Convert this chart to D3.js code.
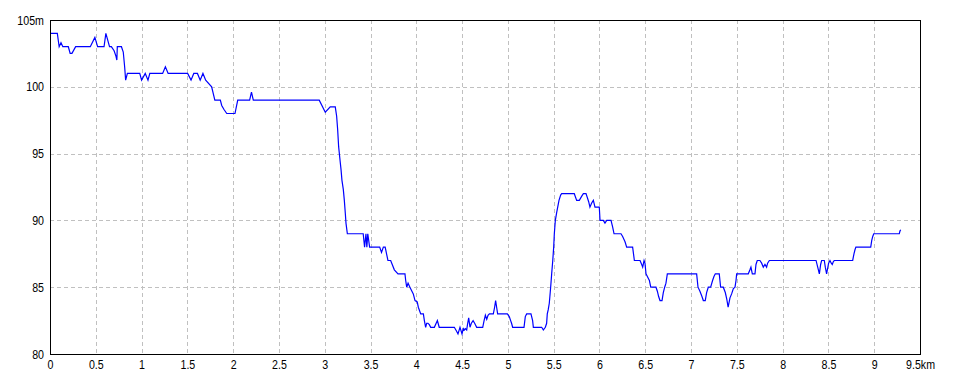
<!DOCTYPE html>
<html>
<head>
<meta charset="utf-8">
<script src="https://cdn.jsdelivr.net/npm/d3@7"></script>
<style>
  body { margin: 0; background: #fff; }
  svg text { font-family: "Liberation Sans", Arial, sans-serif; font-size: 13px; fill: #000; }
</style>
</head>
<body>
<div id="chart"></div>
<script>
// distance along the route (km) and elevation (m)
const distKm = [
  0, 0.08, 0.10, 0.12, 0.14, 0.20, 0.22, 0.24, 0.28, 0.44, 0.49, 0.52, 0.59, 0.61, 0.65, 0.67,
  0.70, 0.72, 0.73, 0.735, 0.78, 0.80, 0.815, 0.826, 0.845, 0.98, 1.00, 1.04, 1.07, 1.09,
  1.23, 1.26, 1.29, 1.503, 1.54, 1.57, 1.61, 1.64, 1.67, 1.70, 1.765, 1.80, 1.86, 1.875,
  1.90, 1.93, 2.02, 2.05, 2.18, 2.20, 2.22, 2.94, 3.006, 3.06, 3.115, 3.13, 3.141, 3.152,
  3.167, 3.178, 3.188, 3.203, 3.214, 3.225, 3.232, 3.247, 3.42, 3.435, 3.45, 3.46, 3.47,
  3.49, 3.60, 3.62, 3.64, 3.66, 3.69, 3.72, 3.76, 3.80, 3.876, 3.884, 3.895, 3.91, 3.93,
  3.967, 3.986, 4.01, 4.022, 4.048, 4.077, 4.088, 4.102, 4.113, 4.127, 4.142, 4.157, 4.197,
  4.23, 4.25, 4.415, 4.44, 4.455, 4.477, 4.499, 4.513, 4.524, 4.535, 4.55, 4.561, 4.572,
  4.586, 4.601, 4.62, 4.637, 4.659, 4.725, 4.74, 4.754, 4.769, 4.783, 4.798, 4.841, 4.855,
  4.866, 4.877, 4.888, 4.994, 5.015, 5.03, 5.04, 5.052, 5.176, 5.19, 5.205, 5.252, 5.27,
  5.278, 5.369, 5.387, 5.409, 5.423, 5.43, 5.44, 5.452, 5.467, 5.478, 5.49, 5.50, 5.507,
  5.518, 5.533, 5.544, 5.558, 5.576, 5.587, 5.725, 5.751, 5.78, 5.805, 5.824, 5.853, 5.868,
  5.882, 5.896, 5.915, 5.933, 5.951, 5.998, 6.006, 6.042, 6.06, 6.079, 6.126, 6.144, 6.159,
  6.235, 6.253, 6.279, 6.297, 6.362, 6.381, 6.443, 6.461, 6.472, 6.487, 6.497, 6.508, 6.523,
  6.545, 6.56, 6.617, 6.632, 6.646, 6.661, 6.683, 6.697, 6.712, 6.726, 6.741, 7.061, 7.076,
  7.097, 7.119, 7.134, 7.155, 7.17, 7.188, 7.214, 7.235, 7.25, 7.265, 7.308, 7.323, 7.352,
  7.374, 7.39, 7.405, 7.425, 7.443, 7.462, 7.48, 7.491, 7.498, 7.625, 7.643, 7.654, 7.669,
  7.698, 7.709, 7.723, 7.752, 7.771, 7.789, 7.807, 7.825, 7.836, 7.855, 8.365, 8.383, 8.401,
  8.415, 8.426, 8.455, 8.466, 8.48, 8.491, 8.502, 8.517, 8.531, 8.542, 8.553, 8.564, 8.765,
  8.779, 8.79, 8.80, 8.962, 8.973, 8.984, 8.995, 9.274, 9.281, 9.289
];
const elevM = [
  104, 104, 103, 103.3, 103, 103, 102.5, 102.5, 103, 103, 103.7, 103, 103, 104, 103, 103,
  102.7, 102.3, 102, 103, 103, 102.6, 101.5, 100.5, 101, 101, 100.5, 101, 100.5, 101,
  101, 101.5, 101, 101, 100.5, 101, 101, 100.5, 101, 100.5, 100, 99, 99, 98.6,
  98.3, 98, 98, 99, 99, 99.6, 99, 99, 98.1, 98.5, 98.5, 97.8, 96.8, 95.5,
  94.5, 93.8, 93, 92.3, 91.5, 90.5, 89.8, 89, 89, 88, 89, 88, 89,
  88, 88, 87.6, 88, 88, 87, 87, 86.3, 86, 86, 85.5, 85, 85.3, 85,
  84.5, 84, 83.9, 83.5, 83, 83, 82.5, 82, 82.3, 82.3, 82.2, 82, 82,
  82.5, 82, 82, 81.7, 81.5, 82, 81.5, 81.9, 81.8, 81.9, 81.8, 82.3, 82.7,
  82, 82.3, 82.5, 82.3, 82, 82, 82.5, 82.9, 82.6, 82.9, 83, 83, 83.5,
  84, 83.5, 83, 83, 82.8, 82.5, 82.3, 82, 82, 82.8, 83, 83, 82.5,
  82, 82, 81.8, 82, 82.3, 83, 83.3, 83.8, 85, 86, 87, 88, 89,
  90, 90.6, 91, 91.5, 91.9, 92, 92, 91.5, 91.5, 91.8, 92, 92, 91.7,
  91.4, 91, 91.3, 91.5, 91, 91, 90, 90, 89.8, 90, 90, 89.5, 89,
  89, 88.8, 88.4, 88, 88, 87, 87, 86.7, 86.5, 87, 86.8, 86, 85.8,
  85.5, 85, 85, 84.7, 84.3, 84, 84, 84.6, 85, 85.3, 86, 86, 85,
  84.7, 84.3, 84, 84, 84.6, 85, 85, 85.5, 85.8, 86, 86, 85, 85,
  84.6, 84.1, 83.5, 84.2, 84.5, 84.9, 85, 85.5, 86, 86, 86.3, 86.5, 86,
  86, 86.7, 87, 87, 86.8, 86.5, 86.7, 86.5, 86.8, 87, 87, 86.5, 86,
  86.7, 87, 87, 86.5, 86, 86.4, 86.8, 87, 86.8, 86.7, 86.9, 87, 87,
  87.5, 87.8, 88, 88, 88.5, 88.8, 89, 89, 89.2, 89.3
];

const xTicks = [0, 0.5, 1, 1.5, 2, 2.5, 3, 3.5, 4, 4.5, 5, 5.5, 6, 6.5, 7, 7.5, 8, 8.5, 9, 9.5];
const yTicks = [80, 85, 90, 95, 100, 105];
const xUnit = "km";
const yUnit = "m";

const width = 960, height = 384;
const plotL = 50, plotR = 920, plotT = 20, plotB = 354;
const squeeze = 0.82; // narrow the label font a bit

const svg = d3.select("#chart").append("svg")
  .attr("width", width)
  .attr("height", height);

const x = d3.scaleLinear().domain([0, 9.5]).range([plotL, plotR]);
const y = d3.scaleLinear().domain([80, 105]).range([plotB, plotT]);

// dashed grid
svg.append("g")
  .selectAll("line")
  .data(xTicks.slice(1, -1))
  .enter().append("line")
  .attr("x1", d => Math.round(x(d)) + 0.5)
  .attr("x2", d => Math.round(x(d)) + 0.5)
  .attr("y1", plotT)
  .attr("y2", plotB)
  .attr("stroke", "#c0c0c0")
  .attr("stroke-dasharray", "4,3");

svg.append("g")
  .selectAll("line")
  .data(yTicks.slice(1, -1))
  .enter().append("line")
  .attr("x1", plotL)
  .attr("x2", plotR)
  .attr("y1", d => Math.round(y(d)) + 0.5)
  .attr("y2", d => Math.round(y(d)) + 0.5)
  .attr("stroke", "#c0c0c0")
  .attr("stroke-dasharray", "4,3");

// elevation profile
const line = d3.line()
  .x((d, i) => x(distKm[i]))
  .y(d => y(d));

svg.append("path")
  .datum(elevM)
  .attr("d", line)
  .attr("fill", "none")
  .attr("stroke", "#0000ff")
  .attr("stroke-width", 1.2);

// frame
svg.append("rect")
  .attr("x", plotL + 0.5)
  .attr("y", plotT + 0.5)
  .attr("width", plotR - plotL)
  .attr("height", plotB - plotT)
  .attr("fill", "none")
  .attr("stroke", "#000");

// axis labels
const xAxis = d3.axisBottom(x)
  .tickValues(xTicks)
  .tickSize(0)
  .tickPadding(6)
  .tickFormat((d, i) => i === xTicks.length - 1 ? d + xUnit : d);

svg.append("g")
  .attr("transform", `translate(0,${plotB})`)
  .call(xAxis)
  .call(g => g.select(".domain").remove())
  .selectAll("text")
  .attr("fill", "#000")
  .attr("transform", `scale(${squeeze},1)`)
  .style("font-size", "13px");

const yAxis = d3.axisLeft(y)
  .tickValues(yTicks)
  .tickSize(0)
  .tickPadding(6)
  .tickFormat((d, i) => i === yTicks.length - 1 ? d + yUnit : d);

svg.append("g")
  .attr("transform", `translate(${plotL},0)`)
  .call(yAxis)
  .call(g => g.select(".domain").remove())
  .selectAll("text")
  .attr("fill", "#000")
  .attr("x", -6 / squeeze)
  .attr("transform", `scale(${squeeze},1)`)
  .style("font-size", "13px");
</script>
</body>
</html>
